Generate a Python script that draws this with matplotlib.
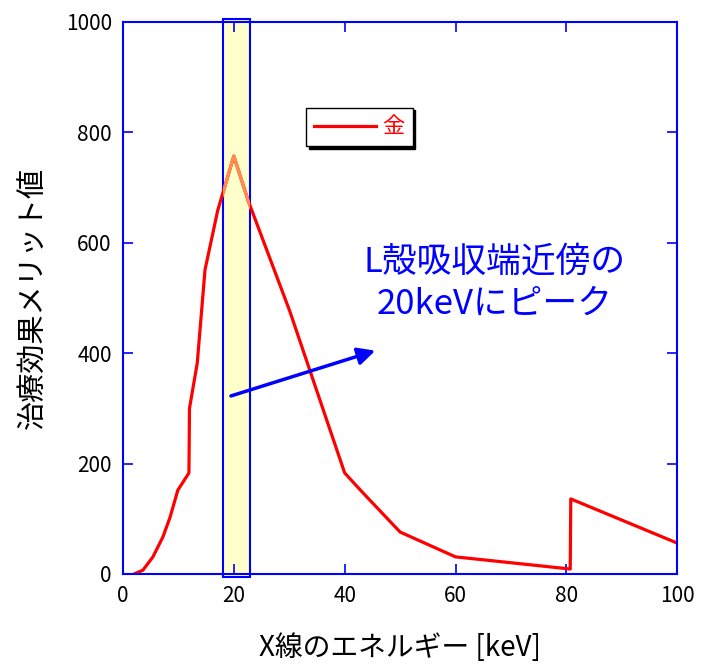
import matplotlib.pyplot as plt
from matplotlib.patches import Rectangle

plt.rcParams['font.family'] = ['Noto Sans CJK JP', 'DejaVu Sans']

# data
energy = [2, 3.6, 5.4, 7.2, 8.5, 9.9, 11.9, 12.0, 13.4, 14.8, 17.1, 20, 22.6, 30.1, 40, 43.3, 50, 60, 80.7, 80.8, 100]
merit = [0, 7, 31, 67, 103, 152, 183, 300, 382, 551, 659, 757, 676, 476, 183, 147, 76, 31, 9, 136, 56]
band = [18, 23]
xticks = [0, 20, 40, 60, 80, 100]
yticks = [0, 200, 400, 600, 800, 1000]

fig = plt.figure(figsize=(7.06, 6.70), dpi=100)
ax = fig.add_axes([0.1742, 0.1433, 0.7850, 0.8239])

# highlighted band around the L edge
rect = Rectangle((band[0], -5), band[1] - band[0], 1010, facecolor='#ffffcc',
                 edgecolor='#0000ff', lw=1.5, zorder=1, clip_on=False)
ax.add_patch(rect)

ax.plot(energy, merit, color='#ff0000', lw=2.3, zorder=2, label='金')
# part of the curve inside the band looks orange
inband, = ax.plot(energy, merit, color='#ff8c50', lw=2.3, zorder=3)
inband.set_clip_path(Rectangle((band[0], 0), band[1] - band[0], 1000, transform=ax.transData))

ax.annotate('', xy=(46, 406), xytext=(19, 321),
            arrowprops=dict(arrowstyle='-|>', color='#0000ff', lw=2.5, mutation_scale=26), zorder=4)
ax.text(67, 527, 'L殻吸収端近傍の\n20keVにピーク', color='#0000ff', fontsize=25,
        style='italic', ha='center', va='center', linespacing=1.25)

ax.set_xlim(0, 100)
ax.set_ylim(0, 1000)
ax.set_xticks(xticks)
ax.set_yticks(yticks)
ax.tick_params(direction='in', length=7, width=1.2, color='#0000ff', labelsize=15,
               top=True, right=True, pad=8)
for s in ax.spines.values():
    s.set_color('#0000ff')
    s.set_linewidth(1.5)

ax.set_xlabel('X線のエネルギー [keV]', fontsize=20, labelpad=19)
ax.set_ylabel('治療効果メリット値', fontsize=21, labelpad=12)

leg = ax.legend(loc='upper left', bbox_to_anchor=(0.31, 0.865), fontsize=16,
                shadow={'color': 'black', 'alpha': 1}, fancybox=False,
                handlelength=2.8, handletextpad=0.3, borderpad=0.35, framealpha=1)
leg.get_frame().set_edgecolor('black')
for t in leg.get_texts():
    t.set_color('#ff0000')

plt.savefig('out.png', dpi=100)
